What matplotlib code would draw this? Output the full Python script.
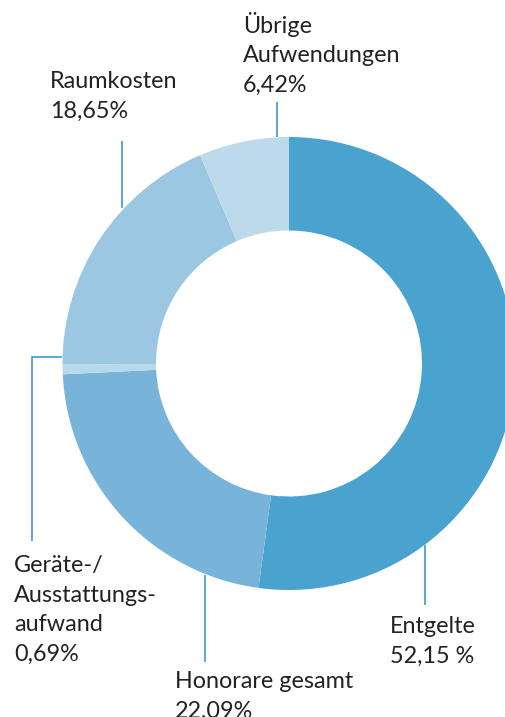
import matplotlib
matplotlib.use("Agg")
import matplotlib.pyplot as plt

categories = ["Entgelte", "Honorare gesamt", "Geräte-/\nAusstattungs-\naufwand", "Raumkosten", "Übrige\nAufwendungen"]
values = [52.15, 22.09, 0.69, 18.65, 6.42]
value_labels = ["52,15 %", "22,09%", "0,69%", "18,65%", "6,42%"]
colors = ["#4AA3CF", "#78B4D9", "#B8D8EB", "#9CC7E3", "#BDDAEB"]

W, H = 506, 717
fig = plt.figure(figsize=(W / 100, H / 100), dpi=100)
ax = fig.add_axes([0, 0, 1, 1])
ax.set_xlim(0, W)
ax.set_ylim(-H, 0)
ax.set_aspect("equal")
ax.axis("off")

cx, cy, R = 289, -363.5, 226.5
ax.pie(values, colors=colors, startangle=90, counterclock=False,
       center=(cx, cy), radius=R,
       wedgeprops=dict(width=R - 133, linewidth=0))
ax.set_xlim(0, W)
ax.set_ylim(-H, 0)

line_c = "#4AA3CF"
lw = 1.3
# leader lines (pixel coordinates, y downward -> negative)
leaders = [
    [(425, 545), (425, 605)],            # Entgelte
    [(205, 575), (205, 662)],            # Honorare
    [(62, 357), (32, 357), (32, 541)],   # Geräte
    [(122, 141), (122, 208)],            # Raumkosten
    [(277, 102), (277, 137)],            # Übrige
]
for pts in leaders:
    ax.plot([p[0] for p in pts], [-p[1] for p in pts], color=line_c, lw=lw,
            solid_capstyle="butt", solid_joinstyle="miter")

# label anchors: left x, first baseline y
anchors = [(390, 633), (175, 688), (14, 572), (50, 88), (243, 33)]
step = 29.5
for cat, vl, (x, y) in zip(categories, value_labels, anchors):
    lines = cat.split("\n") + [vl]
    for i, t in enumerate(lines):
        ax.text(x, -(y + i * step), t, fontsize=16.8, family="Lato",
                color="#222222", ha="left", va="baseline")

fig.savefig("out.png", dpi=100)
